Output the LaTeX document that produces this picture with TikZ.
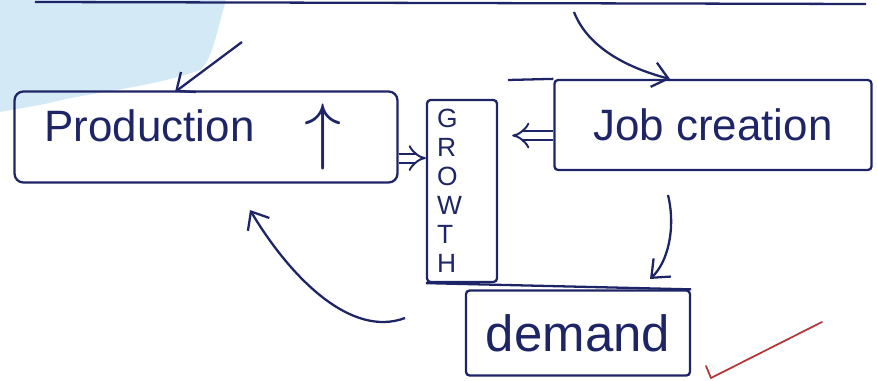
\documentclass[tikz,border=0pt]{standalone}
\usepackage{fontspec}
\setmainfont{Liberation Sans}
\usepackage{tikz}
\usetikzlibrary{arrows.meta,positioning}
\definecolor{ink}{HTML}{1E2566}
\definecolor{blob}{HTML}{D3EAF6}
\definecolor{tick}{HTML}{B3363A}
\tikzset{
  box/.style={draw=ink, line width=1.3pt, rounded corners=5pt, inner sep=0pt, text=ink, font=\fontsize{25}{30}\selectfont},
  arr/.style={draw=ink, line width=1.3pt, -{Straight Barb[length=3mm,width=5mm]}},
  dblarr/.style={draw=ink, line width=1.1pt, double, double distance=4pt, -{Implies[length=3mm]}},
  edge/.style={draw=ink, line width=1.3pt}}
\begin{document}
\begin{tikzpicture}[x=0.02cm, y=-0.02cm]
  \useasboundingbox (0,0) rectangle (877,381);
  % pale patch in the corner
  \fill[blob] (0,0) -- (226,0) .. controls (216,35) and (212,60) .. (200,70)
    .. controls (150,88) and (90,92) .. (45,104) -- (0,112) -- cycle;
  % boxes
  \node[box, minimum width=7.66cm, minimum height=1.82cm, text width=6.46cm, align=left] (prod) at (206,137)
    {Production\hspace{1cm}\raisebox{-8pt}{\scalebox{1.7}{$\uparrow$}}};
  \node[box, rounded corners=2pt, minimum height=3.64cm, text width=1.0cm, inner xsep=0.2cm, align=left,
        font=\fontsize{15}{16.5}\selectfont] (growth) at (462,191) {G\\R\\O\\W\\T\\H};
  \node[box, rounded corners=2pt, minimum width=6.34cm, minimum height=1.8cm] (job) at (713,125) {Job creation};
  \node[box, rounded corners=2pt, minimum width=4.48cm, minimum height=1.7cm, font=\fontsize{29}{32}\selectfont] (demand) at (578,333) {demand};
  % free ends
  \coordinate (topL) at (35,2);
  \coordinate (topR) at (866,4);
  \coordinate (a1) at (242,42);
  \coordinate (a2) at (175,92);
  \coordinate (b1) at (574,12);
  \coordinate (b2) at (670,79);
  \coordinate (jobL) at (508,80);
  \coordinate (c1) at (668,195);
  \coordinate (c2) at (650,279);
  \coordinate (d1) at (405,318);
  \coordinate (d2) at (250,210);
  % lines and arrows
  \draw[edge] (topL) -- (topR);
  \draw[edge] (jobL) -- (job.north west);
  \draw[edge] (growth.south west) -- (demand.north east);
  \draw[arr] (a1) -- (a2);
  \draw[arr] (b1) .. controls (588,48) and (628,68) .. (b2);
  \draw[dblarr] ([yshift=-12pt]prod.east) -- ([yshift=-12pt]prod.east -| growth.west);
  \draw[dblarr, shorten >=8pt] ([yshift=-6pt]job.west) -- ([yshift=-6pt]job.west -| growth.east);
  \draw[arr] (c1) .. controls (676,228) and (668,262) .. (c2);
  \draw[arr] (d1) .. controls (352,338) and (292,280) .. (d2);
  % tick
  \draw[tick, line width=1pt, line cap=round] (706,366) -- (711,378) -- (822,322);
\end{tikzpicture}
\end{document}
